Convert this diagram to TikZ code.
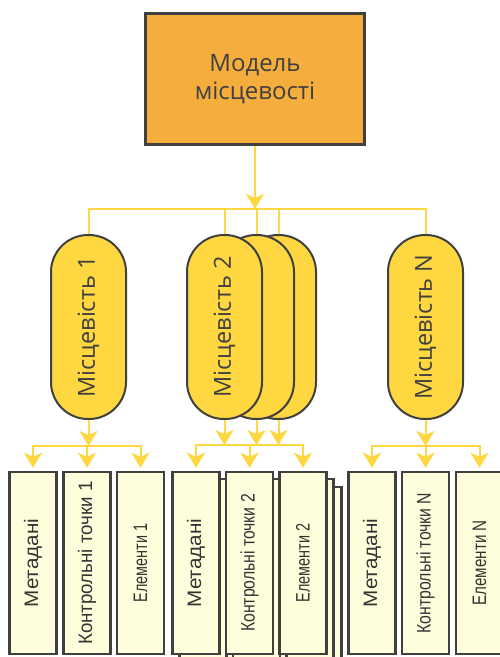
\documentclass[tikz,border=0pt]{standalone}
\usepackage{fontspec}
\usepackage{graphicx}
\setmainfont{Open Sans}
\newfontfamily\docfont{Liberation Sans}
\usetikzlibrary{arrows.meta,calc}
\definecolor{modelorange}{HTML}{F5AD3D}
\definecolor{placeyellow}{HTML}{FFD740}
\definecolor{linkyellow}{HTML}{FFD740}
\definecolor{docyellow}{HTML}{FFFEDC}
\definecolor{edgegray}{HTML}{404040}
\definecolor{textgray}{HTML}{333333}
\tikzset{
	link/.style={draw=linkyellow, line width=2pt},
	arr/.style={link, -{Stealth[length=15pt,width=18pt,inset=4pt]}},
	capsule/.style={draw=edgegray, line width=2pt, fill=placeyellow, rounded corners=37pt,
		minimum width=75pt, minimum height=184pt, inner sep=0pt, text=edgegray,
		font=\fontsize{23.5}{28}\selectfont},
	docbox/.style={draw=edgegray, line width=2.5pt, fill=docyellow, minimum width=47pt,
		minimum height=182pt, inner sep=0pt, text=textgray,
		font=\docfont\fontsize{19.5}{22}\selectfont},
}
\newcommand{\vtxt}[2][1]{\rotatebox{90}{\scalebox{#1}[1]{#2}}}

\begin{document}
\begin{tikzpicture}[x=1pt, y=-1pt]
	\useasboundingbox (0,0) rectangle (499,657);
	\node[draw=edgegray, line width=2.5pt, fill=modelorange, minimum width=219pt, minimum height=131pt,
		align=center, text=edgegray, font=\fontsize{24}{28}\selectfont] (model) at (255,79) {Модель\\місцевості};
	\coordinate (bus0) at (255,209);
%
	% places
	\node[capsule] (loc1) at (88.5,327) {\vtxt{Місцевість 1}};
	\node[capsule] (loc2c) at (278.5,327) {};
	\node[capsule] (loc2b) at (256.5,327) {};
	\node[capsule] (loc2a) at (224.5,327) {\vtxt{Місцевість 2}};
	\node[capsule] (locN) at (425.5,327) {\vtxt{Місцевість N}};
%
	\draw[arr] (model.south) -- (bus0);
	\draw[link] (loc1.north) |- (bus0) -| (locN.north);
	\draw[link] (loc2a.north) -- (loc2a.north |- bus0);
	\draw[link] (loc2b.north) -- (loc2b.north |- bus0);
	\draw[link] (loc2c.north) -- (loc2c.north |- bus0);
%
	% stacked copies behind group 2
	\foreach \d in {15,7}
		\foreach \x/\n in {196/a,249.5/b,303/c}
			\node[docbox] (back-\n-\d) at (\x+\d,563+\d) {};
%
	% documents
	\node[docbox] (m1) at (33,563) {\vtxt[1.06]{Метадані}};
	\node[docbox] (k1) at (87,563) {\vtxt[0.96]{Контрольні точки 1}};
	\node[docbox] (e1) at (140.5,563) {\vtxt[0.74]{Елементи 1}};
	\node[docbox] (m2) at (196,563) {\vtxt[1.06]{Метадані}};
	\node[docbox] (k2) at (249.5,563) {\vtxt[0.81]{Контрольні точки 2}};
	\node[docbox] (e2) at (303,563) {\vtxt[0.74]{Елементи 2}};
	\node[docbox] (mN) at (372,563) {\vtxt[1.06]{Метадані}};
	\node[docbox] (kN) at (425.5,563) {\vtxt[0.81]{Контрольні точки N}};
	\node[docbox] (eN) at (479.5,563) {\vtxt[0.78]{Елементи N}};
%
	\coordinate (bus1) at (87,446);
	\coordinate (bus2) at (249.5,445);
	\coordinate (busN) at (425.5,446);
	\draw[arr] (loc1.south) -- (loc1.south |- bus1);
	\draw[arr] (loc2a.south) -- (loc2a.south |- bus2);
	\draw[arr] (loc2b.south) -- (loc2b.south |- bus2);
	\draw[arr] (loc2c.south) -- (loc2c.south |- bus2);
	\draw[arr] (locN.south) -- (locN.south |- busN);
	\begin{scope}[shorten >=3pt]
	\draw[arr] (bus1) -| (m1.north);
	\draw[arr] (bus1) -- (k1.north);
	\draw[arr] (bus1) -| (e1.north);
	\draw[arr] (bus2) -| (m2.north);
	\draw[arr] (bus2) -- (k2.north);
	\draw[arr] (bus2) -| (e2.north);
	\draw[arr] (busN) -| (mN.north);
	\draw[arr] (busN) -- (kN.north);
	\draw[arr] (busN) -| (eN.north);
	\end{scope}
\end{tikzpicture}
\end{document}
